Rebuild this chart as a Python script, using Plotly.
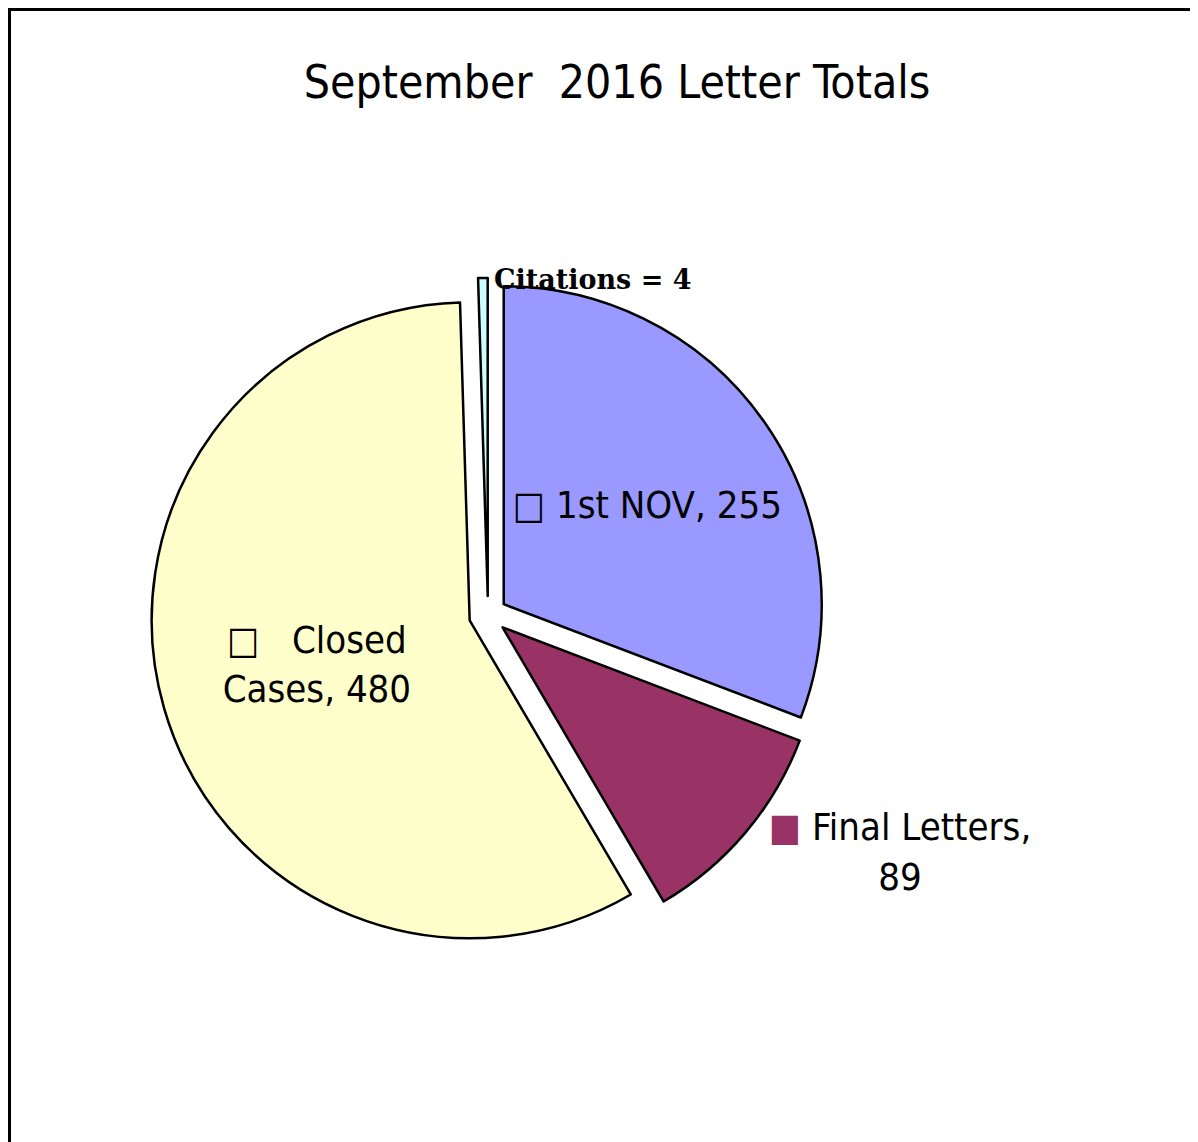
import plotly.graph_objects as go

# ---- data ----
labels = ["1st NOV", "Final Letters", "Closed Cases", "Citations"]
values = [255, 89, 480, 4]
colors = ["#9999FF", "#993366", "#FFFFCC", "#CCFFFF"]
title_text = "September  2016 Letter Totals"

NARROW = "Liberation Sans Narrow, Arial Narrow, DejaVu Sans Condensed, sans-serif"
SERIF_B = "DejaVu Serif, Bookman Old Style, serif"

def key(color, hollow):
    if hollow:
        return '<span style="color:#000000">□</span>'
    return f'<span style="color:{color}">■</span>'

texts = [
    f"{key(colors[0], True)} {labels[0]}, {values[0]}",
    f"{key(colors[1], False)} {labels[1]},<br>{values[1]}",
    f"{key(colors[2], True)}   " + labels[2].replace(" ", "<br>", 1) + f", {values[2]}",
    "",
]
citation_text = f"<b>{labels[3]} = {values[3]}</b>"

W, H = 1198, 1142
cx, cy = 480, 607          # pie centre in px (figure coords)
R = 318
pull = 0.06
half = R * (1 + pull)

fig = go.Figure(
    go.Pie(
        labels=labels,
        values=values,
        text=texts,
        textinfo="text",
        sort=False,
        direction="clockwise",
        rotation=0,
        pull=[pull] * 4,
        marker=dict(colors=colors, line=dict(color="#000000", width=2.5)),
        textposition=["inside", "outside", "inside", "none"],
        insidetextorientation="horizontal",
        textfont=dict(family=NARROW, size=38, color="#000000"),
        hoverinfo="label+value",
        showlegend=False,
        domain=dict(
            x=[(cx - half) / W, (cx + half) / W],
            y=[(H - cy - half) / H, (H - cy + half) / H],
        ),
    )
)

fig.update_layout(
    width=W,
    height=H,
    margin=dict(l=0, r=0, t=0, b=0),
    paper_bgcolor="#FFFFFF",
    plot_bgcolor="#FFFFFF",
    title=dict(
        text=title_text,
        x=609 / W,
        xanchor="center",
        y=1 - 74 / H,
        yanchor="middle",
        font=dict(family=NARROW, size=46, color="#000000"),
    ),
    annotations=[
        dict(
            text=citation_text,
            xref="paper", yref="paper",
            x=(cx + 4) / W, y=1 - (cy - R * (1 + pull) + 2) / H,
            xanchor="left", yanchor="middle",
            showarrow=False,
            font=dict(family=SERIF_B, size=27, color="#000000"),
        )
    ],
    shapes=[
        dict(
            type="rect", xref="paper", yref="paper",
            x0=1.5 / W, x1=1.05, y0=-0.05, y1=1 - 1.5 / H,
            line=dict(color="#000000", width=3),
            fillcolor="rgba(0,0,0,0)",
            layer="above",
        )
    ],
)

fig.write_html("out.html")
